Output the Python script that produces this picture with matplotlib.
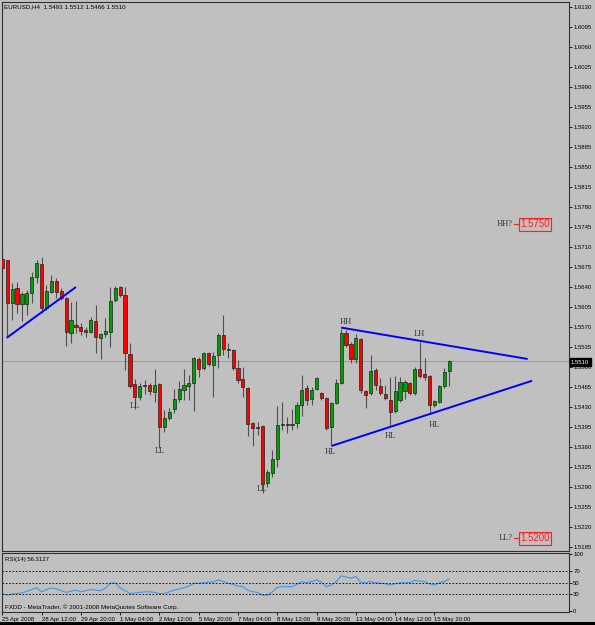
import numpy as np
import matplotlib.pyplot as plt
from matplotlib.patches import Rectangle

# ---- EURUSD H4 candles ----
opens = [1.5689, 1.5687, 1.5612, 1.5638, 1.5610, 1.5610, 1.5629, 1.5657, 1.5680, 1.5603,
         1.5631, 1.5651, 1.5633, 1.5621, 1.5560, 1.5574, 1.5570, 1.5565, 1.5561, 1.5580,
         1.5551, 1.5558, 1.5561, 1.5617, 1.5640, 1.5626, 1.5523, 1.5470, 1.5448, 1.5468,
         1.5468, 1.5456, 1.5470, 1.5395, 1.5411, 1.5427, 1.5444, 1.5460, 1.5467, 1.5472,
         1.5514, 1.5498, 1.5525, 1.5503, 1.5521, 1.5556, 1.5530, 1.5530, 1.5498, 1.5479,
         1.5463, 1.5402, 1.5395, 1.5397, 1.5297, 1.5314, 1.5339, 1.5398, 1.5400, 1.5399,
         1.5402, 1.5434, 1.5463, 1.5444, 1.5462, 1.5455, 1.5446, 1.5395, 1.5437, 1.5472,
         1.5560, 1.5540, 1.5514, 1.5549, 1.5458, 1.5455, 1.5495, 1.5467, 1.5453, 1.5442,
         1.5423, 1.5442, 1.5458, 1.5472, 1.5455, 1.5497, 1.5488, 1.5484, 1.5434, 1.5439,
         1.5467, 1.5493]
highs = [1.5705, 1.5687, 1.5647, 1.5649, 1.5631, 1.5634, 1.5666, 1.5687, 1.5692, 1.5644,
         1.5661, 1.5656, 1.5638, 1.5622, 1.5614, 1.5616, 1.5577, 1.5570, 1.5587, 1.5608,
         1.5560, 1.5586, 1.5640, 1.5642, 1.5642, 1.5640, 1.5542, 1.5479, 1.5472, 1.5477,
         1.5472, 1.5497, 1.5472, 1.5425, 1.5428, 1.5462, 1.5476, 1.5497, 1.5486, 1.5518,
         1.5518, 1.5526, 1.5526, 1.5526, 1.5560, 1.5591, 1.5542, 1.5532, 1.5512, 1.5500,
         1.5465, 1.5404, 1.5404, 1.5398, 1.5320, 1.5355, 1.5432, 1.5439, 1.5413, 1.5427,
         1.5439, 1.5486, 1.5468, 1.5465, 1.5483, 1.5456, 1.5448, 1.5439, 1.5479, 1.5567,
         1.5565, 1.5544, 1.5557, 1.5551, 1.5460, 1.5521, 1.5498, 1.5481, 1.5468, 1.5483,
         1.5484, 1.5483, 1.5477, 1.5474, 1.5500, 1.5544, 1.5516, 1.5486, 1.5442, 1.5468,
         1.5498, 1.5512]
lows = [1.5661, 1.5552, 1.5582, 1.5594, 1.5580, 1.5591, 1.5612, 1.5647, 1.5594, 1.5600,
        1.5629, 1.5621, 1.5617, 1.5537, 1.5542, 1.5560, 1.5556, 1.5552, 1.5560, 1.5524,
        1.5514, 1.5552, 1.5535, 1.5614, 1.5622, 1.5495, 1.5463, 1.5427, 1.5442, 1.5453,
        1.5451, 1.5439, 1.5358, 1.5386, 1.5407, 1.5420, 1.5439, 1.5442, 1.5442, 1.5423,
        1.5483, 1.5495, 1.5502, 1.5448, 1.5498, 1.5521, 1.5516, 1.5495, 1.5472, 1.5448,
        1.5379, 1.5362, 1.5381, 1.5280, 1.5290, 1.5308, 1.5325, 1.5390, 1.5384, 1.5390,
        1.5393, 1.5414, 1.5434, 1.5434, 1.5460, 1.5442, 1.5390, 1.5362, 1.5435, 1.5470,
        1.5535, 1.5507, 1.5507, 1.5455, 1.5428, 1.5451, 1.5460, 1.5451, 1.5442, 1.5395,
        1.5420, 1.5439, 1.5444, 1.5451, 1.5451, 1.5481, 1.5477, 1.5418, 1.5430, 1.5437,
        1.5463, 1.5466]
closes = [1.5673, 1.5612, 1.5637, 1.5610, 1.5628, 1.5629, 1.5657, 1.5682, 1.5603, 1.5633,
          1.5651, 1.5631, 1.5621, 1.5561, 1.5582, 1.5570, 1.5563, 1.5561, 1.5582, 1.5552,
          1.5558, 1.5563, 1.5616, 1.5638, 1.5626, 1.5525, 1.5467, 1.5448, 1.5467, 1.5467,
          1.5458, 1.5468, 1.5395, 1.5411, 1.5421, 1.5444, 1.5462, 1.5468, 1.5472, 1.5516,
          1.5497, 1.5525, 1.5505, 1.5519, 1.5556, 1.5532, 1.5531, 1.5498, 1.5477, 1.5465,
          1.5400, 1.5393, 1.5394, 1.5295, 1.5316, 1.5339, 1.5398, 1.5400, 1.5398, 1.5400,
          1.5434, 1.5460, 1.5442, 1.5460, 1.5481, 1.5446, 1.5393, 1.5437, 1.5472, 1.5560,
          1.5538, 1.5514, 1.5551, 1.5460, 1.5451, 1.5493, 1.5468, 1.5455, 1.5446, 1.5421,
          1.5458, 1.5474, 1.5474, 1.5455, 1.5497, 1.5484, 1.5483, 1.5434, 1.5441, 1.5467,
          1.5491, 1.5510]

# RSI(14) per bar
rsi = [31, 28, 30, 31, 32, 35, 38, 41, 34, 38, 41, 39, 36, 33, 35, 37, 34, 36, 38, 37,
       36, 40, 49, 50, 41, 36, 31, 32, 33, 34, 34, 33, 31, 31, 34, 37, 39, 41, 44, 49,
       49, 50, 51, 51, 55, 52, 49, 47, 44, 43, 37, 34, 33, 28, 28, 34, 42, 43, 43, 43,
       47, 52, 50, 52, 55, 51, 43, 46, 52, 62, 60, 58, 61, 51, 50, 52, 50, 49, 48, 46,
       48, 50, 50, 50, 54, 53, 52, 48, 46, 50, 52, 56.3127]

time_labels = ["25 Apr 2008", "28 Apr 12:00", "29 Apr 20:00", "1 May 04:00", "2 May 12:00",
               "5 May 20:00", "7 May 04:00", "8 May 12:00", "9 May 20:00", "13 May 04:00",
               "14 May 12:00", "15 May 20:00"]
label_every = 8

# trend lines: (bar index, price) pairs
trend_lines = [((0.9, 1.5551), (15.0, 1.5640)),
               ((69.0, 1.5569), (107.0, 1.5514)),
               ((67.1, 1.5362), (107.9, 1.5476))]
# swing annotations
swing_labels = [("HH", 69.9, 1.5579), ("LH", 84.9, 1.5557), ("HL", 66.9, 1.5351),
                ("HL", 79.0, 1.5379), ("HL", 88.0, 1.5398), ("LL", 26.9, 1.5431),
                ("LL", 32.0, 1.5353), ("LL", 52.9, 1.5286)]
targets = [("HH?", 1.5750), ("LL?", 1.5200)]
last_price = 1.5510

W, H = 595, 625
BG = "#C0C0C0"
FONT = "Liberation Sans"

fig = plt.figure(figsize=(W / 100, H / 100), dpi=100, facecolor=BG)
ax = fig.add_axes([2 / W, 1 - 551 / H, 567 / W, 549 / H], facecolor=BG)
ax_rsi = fig.add_axes([2 / W, 1 - 612 / H, 567 / W, 59 / H], facecolor=BG)

xmin, xmax = -0.06, 115.4
x = np.arange(len(opens))
o = np.array(opens); h = np.array(highs); l = np.array(lows); c = np.array(closes)
up = c >= o

# wicks and bodies
ax.vlines(x, l, h, color="#505050", lw=0.8, zorder=2)
ax.bar(x[up], c[up] - o[up], bottom=o[up], width=0.64, color="#00A000",
       edgecolor="#202020", lw=0.5, zorder=3)
ax.bar(x[~up], c[~up] - o[~up], bottom=o[~up], width=0.64, color="#FF0000",
       edgecolor="#202020", lw=0.5, zorder=3)

# last price line
ax.axhline(last_price, color="#8C8CD8", lw=0.6, zorder=1)

for (x0, y0), (x1, y1) in trend_lines:
    ax.plot([x0, x1], [y0, y1], color="#0000FF", lw=1.4, solid_capstyle="butt", zorder=4)

for txt, xi, yi in swing_labels:
    ax.text(xi, yi, txt, family="Liberation Serif", fontsize=6, color="#333333",
            ha="center", va="center", zorder=5)

for txt, price in targets:
    ax.text(104.0, price, txt, family="Liberation Serif", fontsize=6, color="#333333",
            ha="right", va="center")
    ax.plot([104.3, 105.4], [price, price], color="#FF2020", lw=0.8)
    ax.text(105.5, price, f"{price:.4f}", fontsize=7, color="#FF2020", family=FONT,
            ha="left", va="center",
            bbox=dict(boxstyle="square,pad=0.15", facecolor="#C8BCBC", edgecolor="#FF2020", lw=0.8))

ax.set_xlim(xmin, xmax)
ax.set_ylim(1.5178, 1.613875)
ax.set_xticks([])
price_ticks = np.round(np.arange(1.6130, 1.5180, -0.0035), 4)
ax.yaxis.tick_right()
ax.set_yticks(price_ticks)
ax.set_yticklabels([f"{p:.4f}" for p in price_ticks], fontsize=4.3, family=FONT)
ax.tick_params(axis="y", length=2, width=0.6, pad=1, colors="#000000")

for a in (ax, ax_rsi):
    for s in a.spines.values():
        s.set_color("#303030")
        s.set_linewidth(0.8)

# ---- RSI panel ----
ax_rsi.plot(x, rsi, color="#3C96F0", lw=0.8)
for lvl in (70, 50, 30):
    ax_rsi.axhline(lvl, color="#000000", lw=0.6, ls=(0, (2, 2)))
ax_rsi.set_xlim(xmin, xmax)
ax_rsi.set_ylim(-1.4, 102.1)
ax_rsi.yaxis.tick_right()
ax_rsi.set_yticks([100, 70, 50, 30, 0])
ax_rsi.set_yticklabels(["100", "70", "50", "30", "0"], fontsize=4.3, family=FONT)
ax_rsi.tick_params(axis="y", length=2, width=0.6, pad=1)
tick_pos = [i * label_every for i in range(len(time_labels))]
ax_rsi.set_xticks(tick_pos)
ax_rsi.set_xticklabels(time_labels, fontsize=4.3, family=FONT, ha="left")
ax_rsi.tick_params(axis="x", length=2, width=0.6, pad=1.5)

ax_rsi.text(0.006, 0.93, "RSI(14) 56.3127", transform=ax_rsi.transAxes, fontsize=4.3,
            family=FONT, va="top", ha="left")
ax_rsi.text(0.006, 0.03, "FXDD - MetaTrader, \u00a9 2001-2008 MetaQuotes Software Corp.",
            transform=ax_rsi.transAxes, fontsize=4.5, family=FONT, va="bottom", ha="left")

# header
fig.text(4 / W, 1 - 7 / H, "EURUSD,H4  1.5493 1.5512 1.5466 1.5510", fontsize=4.5,
         family=FONT, va="center", ha="left")

# last price tag on the axis
fig.text(571 / W, 1 - 362 / H, f"{last_price:.4f}", fontsize=4.3, family=FONT,
         color="white", va="center", ha="left",
         bbox=dict(boxstyle="square,pad=0.25", facecolor="black", edgecolor="black"))

# bottom frame strip
fig.patches.append(Rectangle((0, 0), 1, 3 / H, transform=fig.transFigure,
                             facecolor="black", edgecolor="none"))

fig.savefig("out.png", dpi=100, facecolor=BG)
